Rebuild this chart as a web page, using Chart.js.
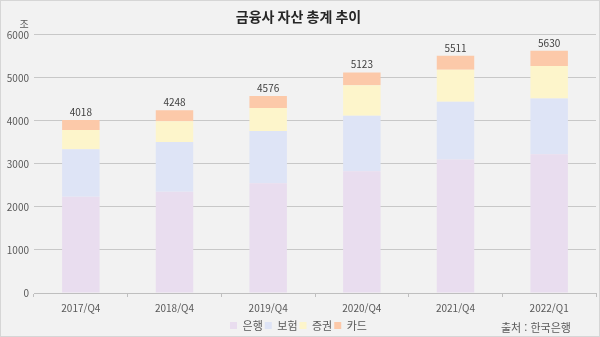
<!DOCTYPE html>
<html lang="ko">
<head>
<meta charset="utf-8">
<script src="https://cdn.jsdelivr.net/npm/chart.js@4"></script>
<style>
  html, body { margin: 0; padding: 0; background: #f2f2f2; }
  #wrap { position: relative; width: 600px; height: 337px; box-sizing: border-box; border: 1px solid #d6d6d6; }
  #source { position: absolute; left: 500px; top: 318px; font: 11px 'Noto Sans CJK KR', sans-serif; color: #595959; }
</style>
</head>
<body>
<div id="wrap">
  <canvas id="chart" width="598" height="335"></canvas>
  <div id="source">출처 : 한국은행</div>
</div>
<script>
const categories = ['2017/Q4', '2018/Q4', '2019/Q4', '2020/Q4', '2021/Q4', '2022/Q1'];
const bank = [2234, 2350, 2550, 2830, 3105, 3222];
const insurance = [1105, 1159, 1216, 1290, 1340, 1300];
const securities = [451, 484, 531, 710, 740, 755];
const card = [228, 255, 279, 293, 326, 353];
const totals = [4018, 4248, 4576, 5123, 5511, 5630];
const yTicks = [0, 1000, 2000, 3000, 4000, 5000, 6000];

const fontFamily = "'Noto Sans CJK KR', 'Noto Sans', sans-serif";
const textColor = '#595959';

const totalLabels = {
  id: 'totalLabels',
  afterDatasetsDraw(chart) {
    const { ctx } = chart;
    const meta = chart.getDatasetMeta(3);
    ctx.save();
    ctx.font = `10px ${fontFamily}`;
    ctx.fillStyle = '#404040';
    ctx.textAlign = 'center';
    ctx.textBaseline = 'bottom';
    meta.data.forEach((bar, i) => {
      ctx.fillText(String(totals[i]), bar.x, bar.y - 3);
    });
    // unit label
    ctx.fillStyle = textColor;
    ctx.textAlign = 'center';
    ctx.textBaseline = 'middle';
    ctx.fillText('조', 23, 23);
    ctx.restore();
  },
};

new Chart(document.getElementById('chart'), {
  type: 'bar',
  data: {
    labels: categories,
    datasets: [
      { label: '은행', data: bank, backgroundColor: '#e9ddef' },
      { label: '보험', data: insurance, backgroundColor: '#dee4f6' },
      { label: '증권', data: securities, backgroundColor: '#fdf5cb' },
      { label: '카드', data: card, backgroundColor: '#fcc9a9' },
    ],
  },
  options: {
    responsive: false,
    animation: false,
    layout: { padding: { left: 0, right: 3, top: 0, bottom: -5 } },
    datasets: { bar: { categoryPercentage: 1, barPercentage: 0.4 } },
    plugins: {
      title: {
        display: true,
        text: '금융사 자산 총계 추이',
        color: '#262626',
        font: { family: fontFamily, size: 14, weight: 'bold' },
        padding: { top: 7, bottom: 10 },
      },
      legend: {
        position: 'bottom',
        labels: {
          color: textColor,
          font: { family: fontFamily, size: 11 },
          boxWidth: 7,
          boxHeight: 7,
          padding: 2,
        },
      },
      tooltip: { enabled: false },
    },
    scales: {
      x: {
        stacked: true,
        afterFit: (scale) => {
          scale.height = 25;
        },
        grid: { display: true, drawOnChartArea: false, drawTicks: true, tickLength: 4, color: '#bfbfbf', offset: true },
        border: { display: true, color: '#bfbfbf' },
        ticks: { color: textColor, font: { family: fontFamily, size: 10 }, padding: 5, maxRotation: 0 },
      },
      y: {
        stacked: true,
        min: 0,
        max: 6000,
        afterBuildTicks: (scale) => {
          scale.ticks = yTicks.map((value) => ({ value }));
        },
        afterFit: (scale) => {
          scale.width = 33;
        },
        grid: { color: '#c8c8c8', drawTicks: false },
        border: { display: false },
        ticks: { color: textColor, font: { family: fontFamily, size: 10 }, padding: 5, callback: (value) => String(value) },
      },
    },
  },
  plugins: [totalLabels],
});
</script>
</body>
</html>
